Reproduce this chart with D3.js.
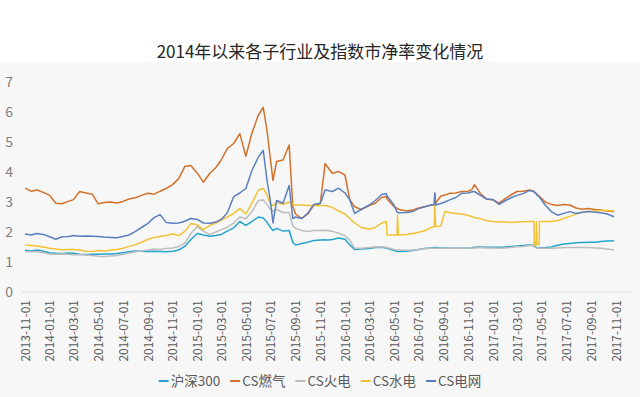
<!DOCTYPE html>
<html>
<head>
<meta charset="utf-8">
<script src="https://cdn.jsdelivr.net/npm/d3@7"></script>
<style>
  body { margin: 0; background: #ffffff; }
  svg { display: block; }
  text { font-family: "Noto Sans CJK SC", "Noto Sans", sans-serif; }
</style>
</head>
<body>
<script>
// chart values (P/B ratio, semi-monthly samples + the jumps)
var dates = [
  "2013-11-01","2013-11-16","2013-12-01","2013-12-16","2014-01-01","2014-01-16","2014-02-01","2014-02-16",
  "2014-03-01","2014-03-16","2014-04-01","2014-04-16","2014-05-01","2014-05-16","2014-06-01","2014-06-16",
  "2014-07-01","2014-07-16","2014-08-01","2014-08-16","2014-09-01","2014-09-16","2014-10-01","2014-10-16",
  "2014-11-01","2014-11-16","2014-12-01","2014-12-16","2015-01-01","2015-01-16","2015-02-01","2015-02-16",
  "2015-03-01","2015-03-16","2015-04-01","2015-04-16","2015-05-01","2015-05-16","2015-06-01","2015-06-13",
  "2015-06-22","2015-07-01","2015-07-07","2015-07-16","2015-08-01","2015-08-16","2015-08-25","2015-09-01",
  "2015-09-16","2015-10-01","2015-10-16","2015-11-01","2015-11-13","2015-11-20","2015-12-01","2015-12-16",
  "2016-01-01","2016-01-13","2016-01-25","2016-02-10","2016-03-01","2016-03-16","2016-04-01","2016-04-12",
  "2016-04-14","2016-05-01","2016-05-09","2016-05-10","2016-05-12","2016-06-01","2016-06-16","2016-07-01",
  "2016-07-16","2016-08-01","2016-08-09","2016-08-10","2016-08-12","2016-08-25","2016-09-04","2016-09-16",
  "2016-10-01","2016-10-16","2016-11-01","2016-11-10","2016-11-16","2016-12-01","2016-12-16","2017-01-01",
  "2017-01-16","2017-02-01","2017-02-16","2017-03-01","2017-03-16","2017-04-01","2017-04-12","2017-04-13",
  "2017-04-17","2017-04-18","2017-04-20","2017-04-25","2017-04-26","2017-05-10","2017-05-25","2017-06-10",
  "2017-06-25","2017-07-10","2017-07-25","2017-08-10","2017-08-25","2017-09-10","2017-09-25","2017-10-10",
  "2017-10-27"
];

var hs300 = [
  1.39,1.37,1.40,1.36,1.31,1.29,1.28,1.30, 1.29,1.26,1.25,1.26,1.26,1.27,1.27,1.28,
  1.31,1.34,1.37,1.36,1.35,1.36,1.35,1.34, 1.36,1.40,1.52,1.75,1.95,1.90,1.86,1.88,
  1.92,2.03,2.14,2.35,2.22,2.35,2.50,2.47, 2.33,2.15,2.05,2.12,2.03,2.05,1.65,1.57,
  1.62,1.66,1.72,1.73,1.74,1.73,1.75,1.80, 1.76,1.57,1.42,1.43,1.45,1.48,1.49,1.47,
  1.46,1.38,1.35,1.35,1.35,1.36,1.38,1.42, 1.45,1.47,1.48,1.48,1.48,1.47,1.47,1.46,
  1.46,1.46,1.47,1.48,1.49,1.50,1.49,1.49, 1.49,1.50,1.52,1.53,1.55,1.57,1.56,1.52,
  1.50,1.49,1.48,1.47,1.47,1.48,1.50,1.56, 1.60,1.62,1.64,1.65,1.66,1.66,1.68,1.70,
  1.71
];

var gas = [
  3.46,3.36,3.40,3.32,3.22,2.96,2.94,3.02, 3.08,3.35,3.30,3.26,2.94,2.98,3.00,2.97,
  3.02,3.10,3.14,3.22,3.29,3.26,3.36,3.45, 3.58,3.78,4.18,4.22,3.96,3.66,3.96,4.15,
  4.40,4.78,4.95,5.28,4.52,5.30,5.90,6.15, 5.40,4.40,3.72,4.35,4.40,4.90,2.85,2.60,
  2.45,2.60,2.90,2.95,4.28,4.15,3.95,4.02, 3.90,3.07,2.84,2.75,2.88,2.96,3.15,3.18,
  3.10,2.85,2.79,2.78,2.76,2.70,2.73,2.80, 2.84,2.90,2.92,3.29,2.96,3.20,3.23,3.29,
  3.30,3.35,3.36,3.42,3.58,3.28,3.10,3.07, 2.96,3.12,3.25,3.35,3.36,3.40,3.36,3.34,
  3.30,3.28,3.25,3.20,3.18,3.00,2.92,2.88, 2.92,2.90,2.80,2.76,2.78,2.75,2.73,2.70,
  2.68
];

var thermal = [
  1.35,1.34,1.35,1.31,1.27,1.26,1.27,1.26, 1.24,1.24,1.23,1.22,1.19,1.18,1.20,1.22,
  1.26,1.30,1.34,1.37,1.40,1.43,1.42,1.45, 1.47,1.52,1.63,1.95,2.18,2.02,1.92,2.00,
  2.08,2.15,2.30,2.50,2.44,2.68,3.05,3.07, 2.92,2.75,2.70,2.75,2.65,2.65,2.20,2.12,
  2.05,2.02,2.05,2.05,2.06,2.05,2.02,1.96, 1.88,1.72,1.46,1.46,1.48,1.50,1.51,1.49,
  1.48,1.42,1.40,1.40,1.40,1.39,1.40,1.42, 1.45,1.46,1.46,1.46,1.46,1.46,1.46,1.46,
  1.46,1.46,1.47,1.47,1.47,1.48,1.47,1.47, 1.46,1.47,1.49,1.51,1.52,1.55,1.55,1.50,
  1.48,1.47,1.47,1.46,1.46,1.46,1.46,1.47, 1.48,1.48,1.48,1.48,1.48,1.47,1.46,1.43,
  1.40
];

var hydro = [
  1.57,1.55,1.53,1.50,1.46,1.43,1.41,1.42, 1.42,1.40,1.36,1.35,1.38,1.37,1.40,1.42,
  1.46,1.52,1.58,1.66,1.76,1.82,1.85,1.88, 1.94,1.88,2.02,2.28,2.24,2.08,2.22,2.30,
  2.40,2.50,2.62,2.78,2.60,2.96,3.40,3.45, 3.25,2.90,2.88,2.98,2.92,3.00,2.92,2.90,
  2.90,2.88,2.88,2.88,2.88,2.86,2.82,2.70, 2.60,2.45,2.30,2.15,2.10,2.15,2.30,2.35,
  1.90,1.90,1.90,2.57,1.90,1.92,1.95,1.99, 2.04,2.15,2.18,2.96,2.18,2.20,2.68,2.65,
  2.62,2.60,2.55,2.52,2.48,2.44,2.38,2.35, 2.33,2.33,2.32,2.33,2.34,2.35,2.35,1.57,
  1.57,2.35,1.60,1.57,2.35,2.35,2.35,2.38, 2.46,2.52,2.60,2.66,2.68,2.70,2.72,2.72,
  2.71
];

var grid = [
  1.93,1.90,1.95,1.92,1.84,1.76,1.84,1.85, 1.88,1.86,1.87,1.86,1.85,1.83,1.82,1.81,
  1.85,1.90,2.02,2.15,2.29,2.48,2.58,2.32, 2.29,2.30,2.36,2.45,2.42,2.30,2.29,2.33,
  2.42,2.63,3.18,3.30,3.45,4.05,4.50,4.72, 3.75,3.00,2.30,3.05,2.96,3.55,2.45,2.50,
  2.45,2.62,2.92,2.96,3.40,3.38,3.35,3.46, 3.30,3.07,2.62,2.75,2.90,3.05,3.25,3.28,
  3.20,2.90,2.66,2.65,2.64,2.65,2.68,2.78, 2.84,2.90,2.92,3.29,2.90,2.95,3.00,3.07,
  3.15,3.29,3.30,3.34,3.35,3.22,3.10,3.08, 2.92,3.05,3.15,3.22,3.28,3.38,3.35,3.32,
  3.28,3.26,3.22,3.18,3.16,2.90,2.68,2.56, 2.62,2.68,2.62,2.66,2.68,2.66,2.64,2.60,
  2.51
];

var seriesNames = ["沪深300", "CS燃气", "CS火电", "CS水电", "CS电网"];
var seriesValues = [hs300, gas, thermal, hydro, grid];
var seriesColors = ["#24a4cc", "#d2712b", "#bdbdbd", "#f1c232", "#5b7fbe"];

var yTicks = [0, 1, 2, 3, 4, 5, 6, 7];
var xTickLabels = [
  "2013-11-01","2014-01-01","2014-03-01","2014-05-01","2014-07-01","2014-09-01","2014-11-01",
  "2015-01-01","2015-03-01","2015-05-01","2015-07-01","2015-09-01","2015-11-01",
  "2016-01-01","2016-03-01","2016-05-01","2016-07-01","2016-09-01","2016-11-01",
  "2017-01-01","2017-03-01","2017-05-01","2017-07-01","2017-09-01","2017-11-01"
];

var chartTitle = "2014年以来各子行业及指数市净率变化情况";

var width = 640, height = 397;
var parseDate = d3.timeParse("%Y-%m-%d");

var svg = d3.select("body").append("svg")
  .attr("width", width).attr("height", height);

// backgrounds
svg.append("rect").attr("width", width).attr("height", height).attr("fill", "#ffffff");
svg.append("rect").attr("x", 0).attr("y", 62)
  .attr("width", width).attr("height", height - 62).attr("fill", "#f7f7f7");

// title
svg.append("text")
  .attr("x", 320).attr("y", 58)
  .attr("text-anchor", "middle")
  .attr("font-size", "17px")
  .attr("fill", "#262626")
  .text(chartTitle);

// scales
var x = d3.scaleTime()
  .domain([parseDate("2013-11-01"), parseDate("2017-11-01")])
  .range([25, 616]);

var y = d3.scaleLinear()
  .domain([0, 7])
  .range([292, 82]);

// baseline
svg.append("line")
  .attr("x1", 22).attr("x2", 632)
  .attr("y1", y(0)).attr("y2", y(0))
  .attr("stroke", "#dcdcdc").attr("stroke-width", 1);

// y axis
var yAxis = d3.axisLeft(y).tickValues(yTicks).tickFormat(d3.format("d")).tickSize(0).tickPadding(0);
var yG = svg.append("g").attr("transform", "translate(13,0)").call(yAxis);
yG.select(".domain").remove();
yG.selectAll("text")
  .attr("font-size", "14px")
  .attr("fill", "#7f7f7f")
  .style("font-family", "\"Noto Sans CJK SC\", sans-serif");

// x axis
var xAxis = d3.axisBottom(x)
  .tickValues(xTickLabels.map(parseDate))
  .tickFormat(d3.timeFormat("%Y-%m-%d"))
  .tickSize(0);
var xG = svg.append("g").attr("transform", "translate(0," + y(0) + ")").call(xAxis);
xG.select(".domain").remove();
xG.selectAll("text")
  .attr("transform", "rotate(-90)")
  .attr("x", -8).attr("y", 0).attr("dy", "0.35em")
  .style("text-anchor", "end")
  .attr("font-size", "12px")
  .attr("fill", "#595959")
  .style("font-family", "\"Noto Sans CJK SC\", sans-serif");

// lines
var line = d3.line()
  .x(function(d) { return x(d.date); })
  .y(function(d) { return y(d.value); });

seriesValues.forEach(function(vals, i) {
  var pts = dates.map(function(s, j) { return { date: parseDate(s), value: vals[j] }; });
  svg.append("path")
    .datum(pts)
    .attr("fill", "none")
    .attr("stroke", seriesColors[i])
    .attr("stroke-width", 1.5)
    .attr("stroke-linejoin", "round")
    .attr("d", line);
});

// legend
var legend = svg.append("g");
var items = legend.selectAll("g.item").data(seriesNames).enter().append("g").attr("class", "item");
items.append("line")
  .attr("x1", 0).attr("x2", 10).attr("y1", 0).attr("y2", 0)
  .attr("stroke", function(d, i) { return seriesColors[i]; })
  .attr("stroke-width", 2);
items.append("text")
  .attr("x", 12).attr("y", 0).attr("dy", "0.35em")
  .attr("font-size", "13.5px")
  .attr("fill", "#595959")
  .text(function(d) { return d; });

var offsets = [], cur = 0;
items.each(function() {
  offsets.push(cur);
  cur += 12 + d3.select(this).select("text").node().getComputedTextLength() + 10;
});
var total = cur - 10;
items.attr("transform", function(d, i) { return "translate(" + offsets[i] + ",0)"; });
legend.attr("transform", "translate(" + (320 - total / 2) + ",381)");
</script>
</body>
</html>
